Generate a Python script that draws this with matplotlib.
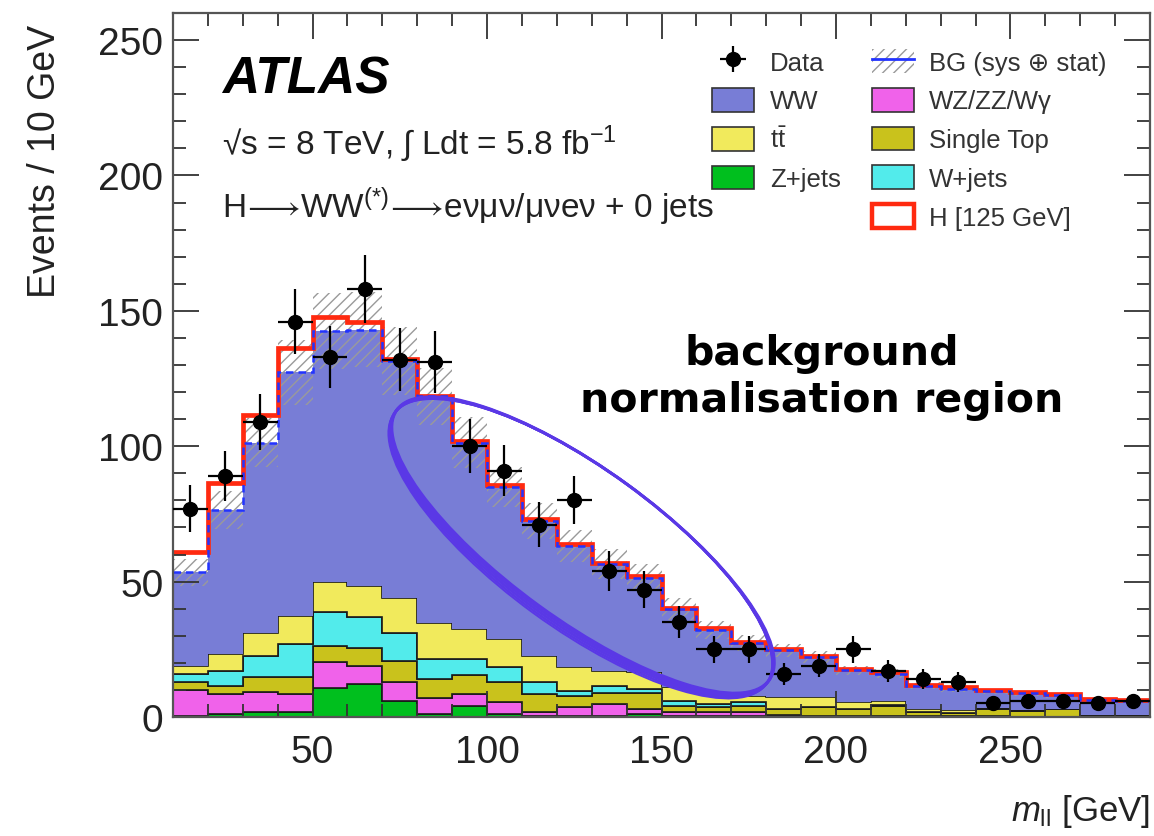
import numpy as np
import matplotlib
matplotlib.use('Agg')
import matplotlib.pyplot as plt
from matplotlib.patches import Patch, Ellipse
from matplotlib.lines import Line2D
from matplotlib.transforms import IdentityTransform
from matplotlib.ticker import MultipleLocator

plt.rcParams['font.family'] = ['Liberation Sans', 'DejaVu Sans']
plt.rcParams['mathtext.fontset'] = 'custom'
plt.rcParams['mathtext.rm'] = 'Liberation Sans'
plt.rcParams['mathtext.it'] = 'Liberation Sans:italic'
plt.rcParams['mathtext.bf'] = 'Liberation Sans:bold'
plt.rcParams['mathtext.default'] = 'regular'
plt.rcParams['mathtext.fallback'] = 'stixsans'
plt.rcParams['hatch.linewidth'] = 1.0

# ---------------- data ----------------
bin_edges = np.arange(10, 291, 10)          # m_ll bins [GeV]
bin_centers = np.arange(15, 290, 10)

zjets  = [0.5, 1.0, 2.0, 2.0, 10.6, 12.2, 6.0, 1.0, 4.2, 1.0, 0.5, 0.5, 0.5, 1.0,
          0.3, 0.2, 0.2, 0.1, 0.1, 0.1, 0.1, 0.0, 0.0, 0.0, 0.0, 0.0, 0.0, 0.0]
wzzz   = [9.6, 7.5, 7.1, 6.5, 9.6, 6.5, 7.0, 6.2, 4.3, 4.7, 1.2, 3.1, 4.3, 1.9,
          1.4, 1.5, 1.5, 0.5, 0.4, 0.3, 0.2, 0.2, 0.2, 0.2, 0.1, 0.1, 0.1, 0.1]
stop   = [2.7, 3.1, 5.5, 6.1, 5.9, 6.6, 7.8, 6.8, 7.0, 7.3, 6.8, 4.0, 4.0, 5.8,
          2.5, 2.1, 2.5, 2.3, 3.1, 2.5, 3.9, 1.5, 1.3, 2.7, 2.1, 2.8, 0.5, 0.4]
wjets  = [3.1, 5.4, 8.0, 12.3, 12.7, 11.8, 10.4, 7.6, 6.1, 5.3, 4.5, 2.1, 2.8, 1.6,
          1.6, 1.0, 1.2, 0.1, 0.1, 0.1, 0.1, 0.1, 0.1, 0.1, 0.1, 0.1, 0.1, 0.1]
ttbar  = [3.0, 6.2, 8.6, 10.5, 11.1, 11.1, 12.6, 13.0, 10.8, 10.5, 9.6, 8.6, 5.5, 6.2,
          5.1, 3.7, 2.5, 4.3, 3.6, 2.4, 1.5, 1.1, 1.0, 0.2, 0.2, 0.1, 0.1, 0.1]
ww     = [34.6, 53.3, 70.1, 90.0, 92.6, 94.9, 87.6, 83.9, 68.9, 56.1, 49.8, 44.9, 39.3, 35.0,
          28.9, 23.7, 19.4, 17.3, 14.8, 11.8, 10.2, 8.7, 7.8, 6.3, 6.3, 4.9, 5.4, 5.1]
higgs  = [7.3, 9.8, 10.4, 8.9, 5.2, 2.7, 0.9, 0.2, 0.6, 0.6, 0.6, 0.6, 0.6, 0.6,
          0.6, 0.5, 0.5, 0.5, 0.5, 0.5, 0.5, 0.4, 0.5, 0.5, 0.5, 0.5, 0.4, 0.5]
bg_unc = [5.0, 7.0, 9.0, 12.0, 14.0, 14.0, 12.5, 10.5, 9.5, 7.5, 6.5, 6.0, 5.5, 5.0,
          4.0, 3.3, 2.8, 2.5, 2.2, 1.8, 1.6, 1.2, 1.1, 1.0, 0.9, 0.8, 0.7, 0.6]
data     = [77, 89, 109, 146, 133, 158, 132, 131, 100, 91, 71, 80, 54, 47,
            35, 25, 25, 16, 19, 25, 17, 14, 13, 5, 6, 6, 5, 6]
data_err = [8.8, 9.4, 10.4, 12.1, 11.5, 12.6, 11.5, 11.4, 10.0, 9.5, 8.4, 8.9, 7.3, 6.9,
            5.9, 5.0, 5.0, 4.0, 4.4, 5.0, 4.1, 3.7, 3.6, 2.2, 2.4, 2.4, 2.2, 2.4]

labels = ['Z+jets', 'WZ/ZZ/W\u03b3', 'Single Top', 'W+jets', r't$\bar{\mathrm{t}}$', 'WW']
colors = ['#00bf1e', '#f062ea', '#c9c21c', '#52ebeb', '#f1ea5c', '#787dd6']

# ---------------- figure ----------------
W, H = 1154, 837
fig = plt.figure(figsize=(W / 100, H / 100), dpi=100)
ax = fig.add_axes([173 / W, 1 - 718 / H, (1150 - 173) / W, (718 - 14) / H])

series = [zjets, wzzz, stop, wjets, ttbar, ww]
base = np.zeros(len(bin_centers))
for i, (vals, col) in enumerate(zip(series, colors)):
    top = base + np.array(vals)
    ec = 'none' if i == len(series) - 1 else '#1a1a1a'
    ax.stairs(top, bin_edges, baseline=base, fill=True, facecolor=col,
              edgecolor=ec, linewidth=1.2, zorder=1)
    base = top
total_bg = base
sig_top = total_bg + np.array(higgs)

# Higgs on top (white fill, red outline)
ax.stairs(sig_top, bin_edges, baseline=total_bg, fill=True, facecolor='white',
          edgecolor='none', zorder=1.1)
# uncertainty band
unc = np.array(bg_unc)
ax.stairs(total_bg + unc, bin_edges, baseline=total_bg - unc, fill=True,
          facecolor='none', edgecolor='#9a9a9a', hatch='///', linewidth=0, zorder=1.2)
ax.stairs(sig_top, bin_edges, baseline=None, color='#ff2a10', linewidth=3.4, zorder=1.3)
ax.stairs(total_bg, bin_edges, baseline=None, color='#2233ff', linewidth=1.8,
          linestyle=(0, (3, 2)), zorder=1.4)

eb = ax.errorbar(bin_centers, data, yerr=data_err, xerr=5, fmt='o', color='black',
                 markersize=10, elinewidth=1.6, capsize=0, zorder=3)

ax.set_xlim(10, 290)
ax.set_ylim(0, 260)
ax.xaxis.set_major_locator(MultipleLocator(50))
ax.xaxis.set_minor_locator(MultipleLocator(10))
ax.yaxis.set_major_locator(MultipleLocator(50))
ax.yaxis.set_minor_locator(MultipleLocator(10))
ax.tick_params(which='both', direction='in', top=True, right=True, colors='#333333',
               labelcolor='#222222')
ax.tick_params(which='major', length=19, width=1.3, labelsize=28)
ax.tick_params(which='minor', length=9.5, width=1.3)
ax.tick_params(axis='x', which='major', pad=12)
ax.tick_params(axis='y', which='major', pad=7)
for sp in ax.spines.values():
    sp.set_color('#555555')
    sp.set_linewidth(1.6)

ax.set_ylabel('Events / 10 GeV', fontsize=27, loc='top', color='#222222')
ax.yaxis.set_label_coords((63 - 173) / 977, (718 - 25) / 704)
ax.set_xlabel(r'$\mathit{m}_{\mathrm{ll}}$ [GeV]', fontsize=25, loc='right',
              color='#222222', labelpad=16)

# ---------------- legend ----------------
blank = Line2D([], [], linestyle='none', marker='none')
bg_handle = (Patch(facecolor='white', edgecolor='#9a9a9a', hatch='///', linewidth=0),
             Line2D([], [], color='#2233ff', linewidth=2))
handles = [eb,
           Patch(facecolor=colors[5], edgecolor='#333333', linewidth=1.2),
           Patch(facecolor=colors[4], edgecolor='#333333', linewidth=1.2),
           Patch(facecolor=colors[0], edgecolor='#333333', linewidth=1.2),
           blank,
           bg_handle,
           Patch(facecolor=colors[1], edgecolor='#333333', linewidth=1.2),
           Patch(facecolor=colors[2], edgecolor='#333333', linewidth=1.2),
           Patch(facecolor=colors[3], edgecolor='#333333', linewidth=1.2),
           Patch(facecolor='white', edgecolor='#ff2a10', linewidth=3.2)]
leg_labels = ['Data', 'WW', labels[4], 'Z+jets', '',
              'BG (sys \u2295 stat)', labels[1], 'Single Top', 'W+jets', 'H [125 GeV]']
leg = fig.legend(handles, leg_labels, ncol=2, loc='upper left',
                 bbox_to_anchor=(712 / W, 1 - 50 / H), frameon=False,
                 prop={'family': ['Liberation Sans', 'DejaVu Sans'], 'size': 18.5},
                 handlelength=1.65, handleheight=1.05, handletextpad=0.6,
                 columnspacing=1.2, labelspacing=0.51, borderpad=0, borderaxespad=0)
for t in leg.get_texts():
    t.set_color('#333333')

# ---------------- text ----------------
fig.text(222 / W, 1 - 93 / H, 'ATLAS', fontsize=37, fontweight='bold',
         fontstyle='italic', va='baseline', ha='left')
fig.text(222 / W, 1 - 155 / H, '\u221as = 8 TeV, \u222b Ldt = 5.8 fb$^{-1}$',
         fontsize=24, va='baseline', ha='left', color='#222222')
fig.text(222 / W, 1 - 218 / H,
         r'H$\!\longrightarrow\!$WW$^{(*)}$$\!\longrightarrow\!$e'
         + '\u03bd\u03bc\u03bd/\u03bc\u03bde\u03bd + 0 jets',
         fontsize=24, va='baseline', ha='left', color='#222222')

fig.text(822 / W, 1 - 365 / H, 'background', fontsize=29.5, fontweight='bold',
         family=['DejaVu Sans'], ha='center', va='baseline')
fig.text(822 / W, 1 - 412 / H, 'normalisation region', fontsize=29.5, fontweight='bold',
         family=['DejaVu Sans'], ha='center', va='baseline')

# hand-drawn style ellipse (annotation): several strokes, thicker on the lower-left side
for d, lw in [(0, 2.2), (1.2, 2.0), (2.4, 2.0), (3.6, 1.8), (4.6, 1.4)]:
    cx = 583 - 0.588 * d
    cy = 546 + 0.809 * d
    e = Ellipse((cx, H - cy), 2 * 230, 2 * (75 + d), angle=-36, fill=False,
                edgecolor='#5a38e6', linewidth=lw, transform=IdentityTransform())
    fig.add_artist(e)

fig.savefig('out.png', dpi=100)
